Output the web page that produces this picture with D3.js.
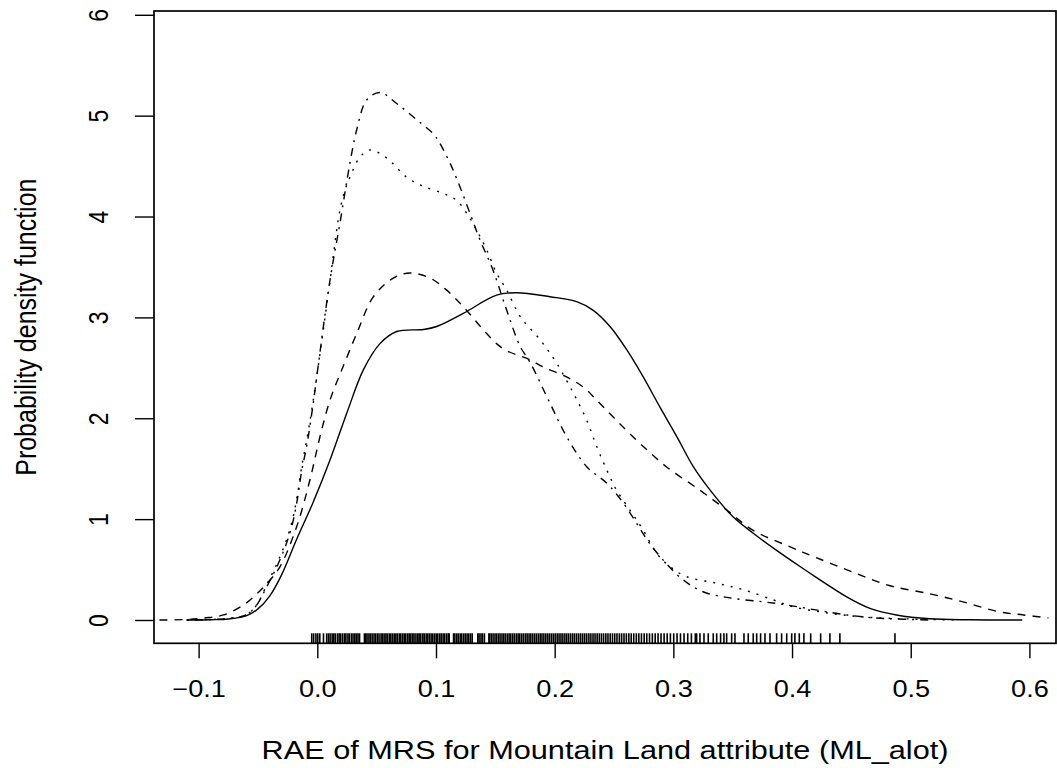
<!DOCTYPE html>
<html>
<head>
<meta charset="utf-8">
<script src="https://cdn.jsdelivr.net/npm/d3@7"></script>
<style>
  body { margin: 0; background: #fff; }
  text { font-family: "Liberation Sans", Arial, Helvetica, sans-serif; fill: #000; }
</style>
</head>
<body>
<div id="chart"></div>
<script>
// density curves (x = RAE, y = density)
var solidX = [-0.110, -0.090, -0.075, -0.060, -0.050, -0.040, -0.030, -0.0174, -0.0034, 0.0107, 0.0248, 0.0388, 0.0528, 0.0669, 0.0893, 0.1006, 0.123, 0.151, 0.168, 0.196, 0.2185, 0.2325, 0.2466, 0.2607, 0.2746, 0.2887, 0.3028, 0.3168, 0.3308, 0.3505, 0.3673, 0.387, 0.4067, 0.4207, 0.446, 0.4656, 0.488, 0.516, 0.550, 0.594];
var solidY = [0, 0.003, 0.01, 0.04, 0.11, 0.24, 0.45, 0.80, 1.17, 1.586, 2.05, 2.48, 2.74, 2.86, 2.88, 2.91, 3.04, 3.22, 3.245, 3.205, 3.156, 3.07, 2.91, 2.68, 2.41, 2.11, 1.82, 1.52, 1.29, 1.02, 0.86, 0.69, 0.53, 0.42, 0.23, 0.116, 0.05, 0.012, 0.002, 0];

var dashX = [-0.133, -0.110, -0.095, -0.079, -0.062, -0.051, -0.0426, -0.0314, -0.0174, -0.0062, 0.0023, 0.0107, 0.0206, 0.0332, 0.047, 0.064, 0.078, 0.095, 0.109, 0.123, 0.140, 0.151, 0.1596, 0.179, 0.190, 0.210, 0.224, 0.2354, 0.252, 0.272, 0.294, 0.322, 0.345, 0.367, 0.398, 0.420, 0.450, 0.4825, 0.516, 0.544, 0.575, 0.595, 0.616];
var dashY = [0, 0.005, 0.02, 0.05, 0.15, 0.26, 0.36, 0.53, 0.925, 1.39, 1.82, 2.18, 2.48, 2.84, 3.2, 3.39, 3.44, 3.39, 3.27, 3.106, 2.875, 2.74, 2.67, 2.58, 2.51, 2.41, 2.31, 2.18, 1.98, 1.75, 1.52, 1.29, 1.09, 0.89, 0.727, 0.62, 0.48, 0.34, 0.26, 0.18, 0.08, 0.05, 0.02];

var dotX = [-0.110, -0.090, -0.075, -0.060, -0.051, -0.0426, -0.034, -0.027, -0.0216, -0.0174, -0.013, -0.009, -0.0047, 0.000, 0.010, 0.019, 0.0233, 0.0275, 0.036, 0.0444, 0.0585, 0.0753, 0.0893, 0.106, 0.1174, 0.126, 0.134, 0.1427, 0.151, 0.1596, 0.171, 0.1876, 0.2017, 0.2157, 0.227, 0.2354, 0.2438, 0.252, 0.2634, 0.2746, 0.286, 0.297, 0.311, 0.3365, 0.359, 0.384, 0.401, 0.430, 0.460, 0.500, 0.540];
var dotY = [0, 0.005, 0.015, 0.05, 0.15, 0.35, 0.56, 0.76, 0.96, 1.2, 1.53, 1.78, 2.08, 2.45, 3.3, 4.06, 4.26, 4.39, 4.59, 4.66, 4.58, 4.39, 4.30, 4.23, 4.16, 4.03, 3.87, 3.67, 3.44, 3.27, 3.007, 2.78, 2.545, 2.25, 1.98, 1.72, 1.49, 1.29, 1.09, 0.89, 0.66, 0.53, 0.43, 0.364, 0.30, 0.20, 0.13, 0.07, 0.03, 0.01, 0];

var dotdashX = [-0.110, -0.090, -0.075, -0.060, -0.051, -0.0426, -0.034, -0.027, -0.0216, -0.0174, -0.013, -0.009, -0.004, -0.0005, 0.0107, 0.019, 0.0275, 0.0332, 0.0416, 0.0528, 0.0669, 0.0837, 0.0977, 0.103, 0.1118, 0.120, 0.1287, 0.137, 0.148, 0.1596, 0.171, 0.179, 0.196, 0.210, 0.227, 0.244, 0.258, 0.269, 0.280, 0.294, 0.308, 0.325, 0.350, 0.376, 0.395, 0.420, 0.446, 0.470, 0.488, 0.516];
var dotdashY = [0, 0.005, 0.015, 0.05, 0.15, 0.33, 0.53, 0.727, 0.925, 1.157, 1.49, 1.72, 2.10, 2.41, 3.37, 3.93, 4.53, 4.86, 5.155, 5.23, 5.12, 4.96, 4.82, 4.73, 4.53, 4.30, 4.03, 3.77, 3.47, 3.07, 2.71, 2.56, 2.15, 1.82, 1.52, 1.355, 1.157, 0.96, 0.76, 0.56, 0.40, 0.28, 0.215, 0.18, 0.15, 0.10, 0.05, 0.02, 0.01, 0];

// observations shown as a rug under the curves
var rugValues = [-0.0047, -0.0031, -0.0012, 0.0004, 0.0021, 0.0052, 0.0079, 0.0094, 0.0108, 0.0125, 0.0139, 0.0152, 0.0170, 0.0184, 0.0197, 0.0213, 0.0229, 0.0241, 0.0258, 0.0270, 0.0287, 0.0301, 0.0316, 0.0329, 0.0343, 0.0356, 0.0397, 0.0408, 0.0419, 0.0435, 0.0447, 0.0462, 0.0478, 0.0491, 0.0506, 0.0520, 0.0537, 0.0549, 0.0563, 0.0578, 0.0590, 0.0606, 0.0619, 0.0633, 0.0648, 0.0662, 0.0675, 0.0691, 0.0703, 0.0718, 0.0732, 0.0745, 0.0761, 0.0774, 0.0788, 0.0803, 0.0815, 0.0831, 0.0846, 0.0858, 0.0872, 0.0889, 0.0901, 0.0917, 0.0930, 0.0944, 0.0959, 0.0973, 0.0988, 0.1002, 0.1015, 0.1031, 0.1044, 0.1060, 0.1073, 0.1089, 0.1103, 0.1111, 0.1148, 0.1159, 0.1175, 0.1188, 0.1204, 0.1217, 0.1233, 0.1247, 0.1262, 0.1276, 0.1291, 0.1305, 0.1352, 0.1363, 0.1379, 0.1392, 0.1408, 0.1446, 0.1452, 0.1466, 0.1481, 0.1497, 0.1511, 0.1526, 0.1540, 0.1556, 0.1571, 0.1585, 0.1601, 0.1616, 0.1630, 0.1646, 0.1661, 0.1677, 0.1692, 0.1706, 0.1722, 0.1737, 0.1753, 0.1768, 0.1784, 0.1799, 0.1815, 0.1831, 0.1846, 0.1862, 0.1878, 0.1893, 0.1909, 0.1925, 0.1941, 0.1956, 0.1972, 0.1988, 0.2004, 0.2021, 0.2037, 0.2053, 0.2069, 0.2086, 0.2102, 0.2118, 0.2135, 0.2152, 0.2168, 0.2185, 0.2202, 0.2219, 0.2236, 0.2253, 0.2270, 0.2288, 0.2305, 0.2323, 0.2340, 0.2358, 0.2376, 0.2394, 0.2412, 0.2431, 0.2449, 0.2468, 0.2487, 0.2506, 0.2525, 0.2545, 0.2564, 0.2584, 0.2604, 0.2625, 0.2645, 0.2666, 0.2688, 0.2709, 0.2731, 0.2754, 0.2776, 0.2799, 0.2823, 0.2847, 0.2871, 0.2896, 0.2922, 0.2948, 0.2975, 0.3003, 0.3031, 0.3060, 0.3090, 0.3121, 0.3152, 0.3185, 0.3196, 0.3224, 0.3258, 0.3294, 0.3336, 0.3365, 0.3398, 0.3426, 0.3449, 0.3491, 0.3519, 0.3595, 0.3631, 0.3673, 0.3702, 0.3735, 0.3772, 0.3814, 0.3870, 0.3912, 0.3955, 0.3997, 0.4024, 0.4061, 0.4100, 0.4157, 0.4241, 0.4319, 0.4403, 0.4867];

var xTicks = [-0.1, 0.0, 0.1, 0.2, 0.3, 0.4, 0.5, 0.6];
var xTickLabels = ["\u22120.1", "0.0", "0.1", "0.2", "0.3", "0.4", "0.5", "0.6"];
var yTicks = [0, 1, 2, 3, 4, 5, 6];

var xTitle = "RAE of MRS for Mountain Land attribute (ML_alot)";
var yTitle = "Probability density function";

var W = 1057, H = 768;
var plot = {left: 154, right: 1056, top: 11, bottom: 643.3};
var stretch = 1.18; // the picture is a little wider than tall

var svg = d3.select("#chart").append("svg")
  .attr("width", W).attr("height", H);

var x = d3.scaleLinear().domain([-0.1376, 0.6224]).range([plot.left, plot.right]);
var y = d3.scaleLinear().domain([-0.231, 6.0375]).range([plot.bottom, plot.top]);

var series = [
  {xs: solidX, ys: solidY, dash: null},
  {xs: dashX, ys: dashY, dash: "8,7"},
  {xs: dotX, ys: dotY, dash: "2,7"},
  {xs: dotdashX, ys: dotdashY, dash: "2,6,8,6"}
];

var line = d3.line()
  .x(function(d) { return x(d[0]); })
  .y(function(d) { return y(d[1]); })
  .curve(d3.curveCatmullRom.alpha(0.5));

svg.append("g").selectAll("path")
  .data(series)
  .enter().append("path")
    .attr("d", function(s) { return line(d3.zip(s.xs, s.ys)); })
    .attr("fill", "none")
    .attr("stroke", "#000")
    .attr("stroke-width", 1.4)
    .attr("stroke-dasharray", function(s) { return s.dash; });

// rug
svg.append("g").selectAll("line")
  .data(rugValues)
  .enter().append("line")
    .attr("x1", function(d) { return x(d); })
    .attr("x2", function(d) { return x(d); })
    .attr("y1", y.range()[0])
    .attr("y2", y.range()[0] - 10)
    .attr("stroke", "#000")
    .attr("stroke-width", 1.6);

// x axis
var gx = svg.append("g")
  .attr("transform", "translate(0," + plot.bottom + ")")
  .call(d3.axisBottom(x).tickValues(xTicks).tickSize(15)
    .tickFormat(function(d, i) { return xTickLabels[i]; }));
gx.select(".domain").remove();
gx.selectAll("line").attr("stroke", "#000").attr("stroke-width", 1.4);
gx.selectAll("text")
  .attr("y", null).attr("dy", null)
  .attr("transform", "translate(0,54) scale(" + stretch + ",1)")
  .style("font-size", "23px");

// y axis
var gy = svg.append("g")
  .attr("transform", "translate(" + plot.left + ",0)")
  .call(d3.axisLeft(y).tickValues(yTicks).tickSize(19).tickFormat(d3.format("d")));
gy.select(".domain").remove();
gy.selectAll("line").attr("stroke", "#000").attr("stroke-width", 1.4);
gy.selectAll("text")
  .attr("x", null).attr("dy", null)
  .attr("text-anchor", "middle")
  .attr("transform", "translate(-46,0) scale(" + stretch + ",1) rotate(-90)")
  .style("font-size", "23px");

// box
svg.append("rect")
  .attr("x", plot.left).attr("y", plot.top)
  .attr("width", plot.right - plot.left).attr("height", plot.bottom - plot.top)
  .attr("fill", "none").attr("stroke", "#000").attr("stroke-width", 1.7);

// axis titles
svg.append("text")
  .attr("text-anchor", "middle")
  .attr("transform", "translate(" + (plot.left + plot.right) / 2 + ",759) scale(" + stretch + ",1)")
  .style("font-size", "26px")
  .text(xTitle);

svg.append("text")
  .attr("text-anchor", "middle")
  .attr("transform", "translate(36," + (plot.top + plot.bottom) / 2 + ") scale(" + stretch + ",1) rotate(-90)")
  .style("font-size", "25px")
  .text(yTitle);
</script>
</body>
</html>
